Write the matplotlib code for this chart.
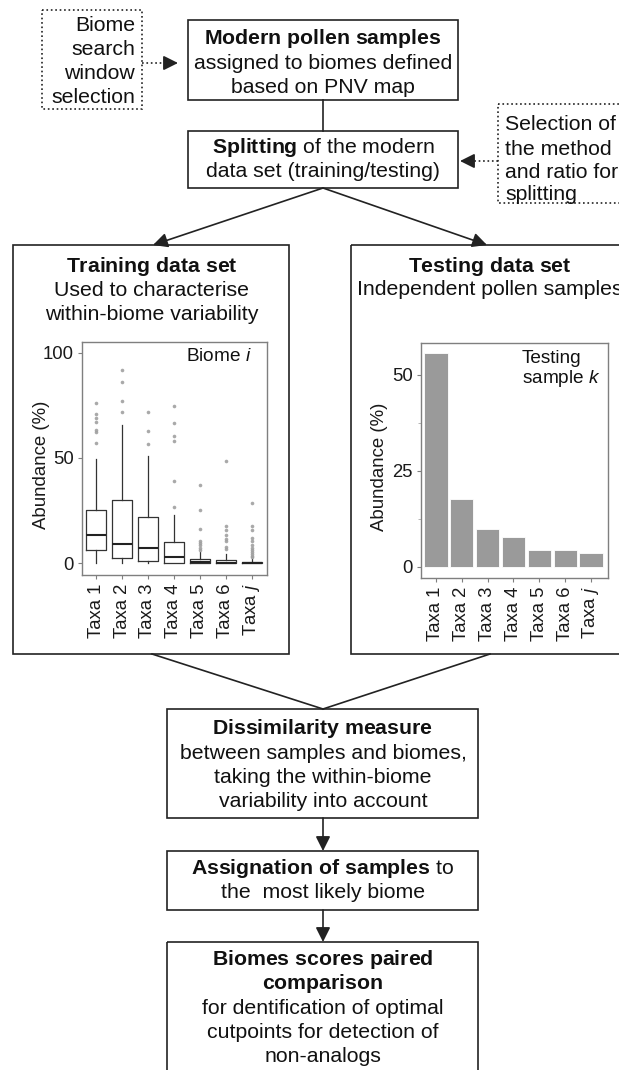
import matplotlib.pyplot as plt
from matplotlib.patches import Rectangle

plt.rcParams['font.family'] = ['Liberation Sans', 'DejaVu Sans']
plt.rcParams['mathtext.fontset'] = 'custom'
plt.rcParams['mathtext.rm'] = 'Liberation Sans'
plt.rcParams['mathtext.it'] = 'Liberation Sans:italic'
plt.rcParams['mathtext.bf'] = 'Liberation Sans:bold'

# ---- data ----
taxa = ['Taxa 1', 'Taxa 2', 'Taxa 3', 'Taxa 4', 'Taxa 5', 'Taxa 6', r'Taxa $\it{j}$']

# training set boxplot stats (abundance %)
train_q1 = [6.3, 2.7, 1.0, 0.0, 0.0, 0.0, 0.0]
train_med = [13.4, 9.2, 7.4, 3.0, 0.6, 0.4, 0.2]
train_q3 = [25.3, 30.2, 22.0, 10.0, 2.2, 1.7, 0.6]
train_lo = [0.0, 0.0, 0.0, 0.0, 0.0, 0.0, 0.0]
train_hi = [49.5, 65.5, 51.0, 23.0, 5.5, 4.5, 2.0]
train_out = [[57, 62.5, 63.5, 67, 69, 71, 76],
             [72, 77.2, 86.2, 91.5],
             [56.8, 63, 71.8],
             [26.7, 39, 58, 60.6, 66.6, 74.5],
             [6.5, 7.5, 8.5, 9.5, 10.4, 16.1, 25.5, 37.3],
             [7, 7.8, 10.6, 11.7, 13.3, 16, 17.6, 48.6],
             [3, 3.5, 4.5, 5.5, 6.5, 7.5, 8.5, 10.6, 12.2, 15.7, 17.6, 28.8]]

# testing sample k
test_vals = [55.8, 17.7, 9.9, 7.8, 4.3, 4.3, 3.7]

W, H = 619, 1070
fig = plt.figure(figsize=(W / 100, H / 100), dpi=100)
bg = fig.add_axes([0, 0, 1, 1])
bg.set_xlim(0, W)
bg.set_ylim(H, 0)
bg.axis('off')

LC = '#222222'
FS = 15.3
CX = 323  # centre of the main flow


def box(x0, y0, x1, y1, ls='-'):
    bg.add_patch(Rectangle((x0, y0), x1 - x0, y1 - y0, fill=False,
                           edgecolor=LC, lw=1.2, linestyle=ls))


def lines(cx, baselines, texts, ha='center'):
    for y, t in zip(baselines, texts):
        bg.text(cx, y, t, ha=ha, va='baseline', fontsize=FS, color='#111111')


def arrow(x0, y0, x1, y1):
    bg.annotate('', xy=(x1, y1), xytext=(x0, y0),
                arrowprops=dict(arrowstyle='-|>', color=LC, lw=1.2,
                                mutation_scale=22, shrinkA=0, shrinkB=0))


def seg(x0, y0, x1, y1, ls='-'):
    bg.plot([x0, x1], [y0, y1], color=LC, lw=1.2, linestyle=ls)


# top left dotted box
box(42, 10, 142, 109, ls=':')
lines(135, [31, 55, 79, 103], ['Biome', 'search', 'window', 'selection'], ha='right')
seg(142, 63, 166, 63, ls=':')
arrow(165, 63, 178, 63)

# modern pollen box
box(188, 20, 458, 100)
lines(CX, [44, 69, 93], [r'$\bf{Modern\ pollen\ samples}$',
                         'assigned to biomes defined', 'based on PNV map'])
seg(CX, 100, CX, 131)

# splitting box
box(188, 131, 458, 188)
lines(CX, [153, 177], [r'$\bf{Splitting}$ of the modern',
                       'data set (training/testing)'])

# right dotted box
box(498, 104, 640, 203, ls=':')
lines(505, [130, 155, 178, 200], ['Selection of', 'the method',
                                  'and ratio for', 'splitting'], ha='left')
seg(498, 161, 472, 161, ls=':')
arrow(473, 161, 460, 161)

# split arrows
arrow(CX, 188, 153, 245)
arrow(CX, 188, 487, 245)

# training / testing boxes
box(13, 245, 289, 654)
lines(152, [272, 296, 320], [r'$\bf{Training\ data\ set}$',
                             'Used to characterise', 'within-biome variability'])
box(351, 245, 640, 654)
lines(490, [272, 295], [r'$\bf{Testing\ data\ set}$',
                        'Independent pollen samples'])

# converge lines
seg(152, 654, CX, 709)
seg(490, 654, CX, 709)

# dissimilarity
box(167, 709, 478, 818)
lines(CX, [734, 759, 783, 807], [r'$\bf{Dissimilarity\ measure}$',
                                 'between samples and biomes,',
                                 'taking the within-biome',
                                 'variability into account'])
arrow(CX, 818, CX, 851)
box(167, 851, 478, 910)
lines(CX, [874, 898], [r'$\bf{Assignation\ of\ samples}$ to',
                       'the  most likely biome'])
arrow(CX, 910, CX, 942)
box(167, 942, 478, 1080)
lines(CX, [965, 989, 1014, 1038, 1062], [r'$\bf{Biomes\ scores\ paired}$',
                                         r'$\bf{comparison}$',
                                         'for dentification of optimal',
                                         'cutpoints for detection of',
                                         'non-analogs'])


def inset(x0, y0, x1, y1):
    a = fig.add_axes([x0 / W, 1 - y1 / H, (x1 - x0) / W, (y1 - y0) / H])
    for s in a.spines.values():
        s.set_color('#7f7f7f')
        s.set_linewidth(1.0)
    a.tick_params(axis='both', colors='#7f7f7f', labelcolor='#1a1a1a',
                  labelsize=13.3, length=3, width=0.8, pad=3)
    return a


# training boxplot
ax1 = inset(82, 342, 267, 575)
stats = []
for i in range(len(taxa)):
    stats.append(dict(med=train_med[i], q1=train_q1[i], q3=train_q3[i],
                      whislo=train_lo[i], whishi=train_hi[i], fliers=train_out[i]))
ax1.bxp(stats, positions=range(1, 8), widths=0.77, showcaps=False,
        boxprops=dict(color='#333333', lw=0.9),
        whiskerprops=dict(color='#333333', lw=0.9),
        medianprops=dict(color='#222222', lw=1.5),
        flierprops=dict(marker='o', markersize=2.6, markerfacecolor='#a0a0a0',
                        markeredgecolor='none', alpha=0.9))
ax1.set_xlim(0.46, 7.58)
ax1.set_ylim(-5.5, 105)
ax1.set_yticks([0, 50, 100])
ax1.set_xticks(range(1, 8))
ax1.set_xticklabels(taxa, rotation=90)
bg.text(41, 465, 'Abundance (%)', rotation=90, ha='center', va='center',
        fontsize=13.4, color='#1a1a1a')
ax1.text(0.92, 0.975, r'Biome $\it{i}$', transform=ax1.transAxes, ha='right',
         va='top', fontsize=13.7, color='#111111')

# testing bar chart
ax2 = inset(421, 343, 608, 578)
ax2.bar(range(1, 8), test_vals, width=0.9, color='#9a9a9a', edgecolor='white', lw=0.6)
ax2.set_xlim(0.42, 7.66)
ax2.set_ylim(-2.9, 58.3)
ax2.set_yticks([0, 25, 50])
ax2.set_yticks([12.5, 37.5], minor=True)
ax2.tick_params(axis='y', which='minor', length=2, colors='#aaaaaa')
ax2.set_xticks(range(1, 8))
ax2.set_xticklabels(taxa, rotation=90)
bg.text(380, 467, 'Abundance (%)', rotation=90, ha='center', va='center',
        fontsize=13.4, color='#1a1a1a')
ax2.text(0.54, 0.97, 'Testing\nsample $\\it{k}$', transform=ax2.transAxes, ha='left',
         va='top', fontsize=13.7, color='#111111', linespacing=1.05)

fig.savefig('out.png', dpi=100, facecolor='white')
